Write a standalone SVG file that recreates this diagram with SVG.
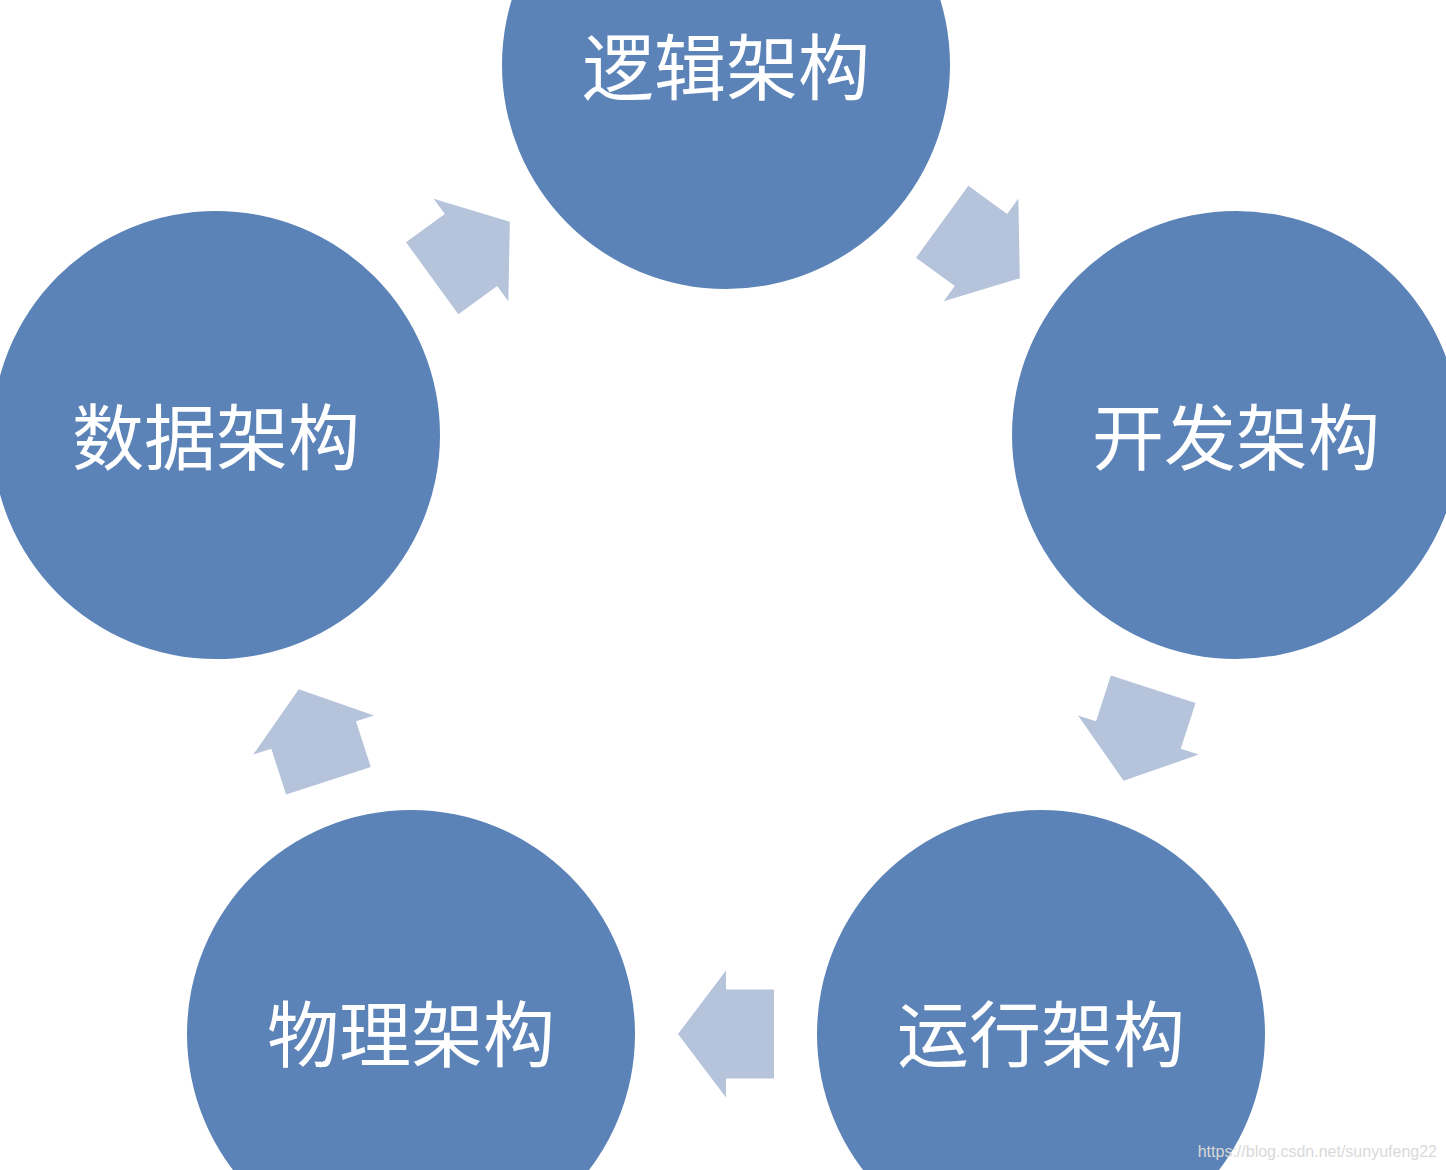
<svg xmlns="http://www.w3.org/2000/svg" width="1446" height="1170" viewBox="0 0 1446 1170">
  <style>
    .node { fill: #5B83B7; }
    .label { fill: #ffffff; font-family: "Noto Sans CJK SC", "Noto Sans", sans-serif; font-size: 72px; text-anchor: middle; dominant-baseline: central; }
    .arrow { fill: #B5C3DB; }
    .wm { fill: #d9d9d9; font-family: "Liberation Sans", Arial, sans-serif; font-size: 16px; text-anchor: end; }
  </style>
  <defs>
    <polygon id="blockArrow" points="-48,-44.5 0,-44.5 0,-63.5 48,0 0,63.5 0,44.5 -48,44.5"/>
  </defs>
  <rect width="1446" height="1170" fill="#ffffff"/>
  <g id="connectors">
    <use href="#blockArrow" class="arrow" transform="translate(981,250) rotate(36)"/>
    <use href="#blockArrow" class="arrow" transform="translate(1138.4,735) rotate(108)"/>
    <use href="#blockArrow" class="arrow" transform="translate(726,1034) rotate(180)"/>
    <use href="#blockArrow" class="arrow" transform="translate(313.6,735) rotate(252)"/>
    <use href="#blockArrow" class="arrow" transform="translate(471,250) rotate(-36)"/>
  </g>
  <g id="node-logic">
    <circle class="node" cx="726" cy="65" r="224"/>
    <text class="label" x="726" y="62">逻辑架构</text>
  </g>
  <g id="node-dev">
    <circle class="node" cx="1236" cy="435" r="224"/>
    <text class="label" x="1236" y="432">开发架构</text>
  </g>
  <g id="node-run">
    <circle class="node" cx="1041" cy="1034" r="224"/>
    <text class="label" x="1041" y="1029">运行架构</text>
  </g>
  <g id="node-physical">
    <circle class="node" cx="411" cy="1034" r="224"/>
    <text class="label" x="411" y="1029">物理架构</text>
  </g>
  <g id="node-data">
    <circle class="node" cx="216" cy="435" r="224"/>
    <text class="label" x="216" y="432">数据架构</text>
  </g>
  <text class="wm" x="1437" y="1157">https://blog.csdn.net/sunyufeng22</text>
</svg>
